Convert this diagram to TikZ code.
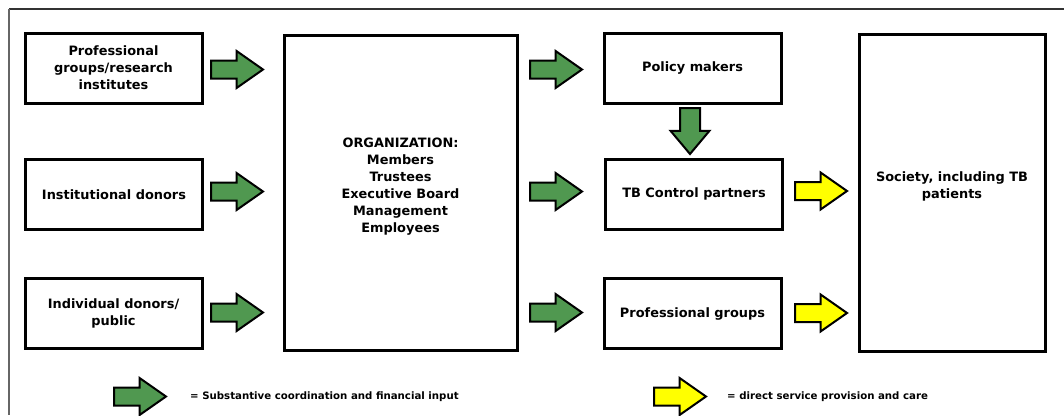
\documentclass[tikz,border=0pt]{standalone}
\usepackage{fontspec}
\setmainfont{DejaVu Sans}
\usetikzlibrary{shapes.arrows}
\definecolor{arrowgreen}{RGB}{80,152,80}
\definecolor{arrowyellow}{RGB}{255,255,0}

\begin{document}
\begin{tikzpicture}[x=1pt,y=-1pt,
	box/.style={draw,line width=3pt,align=center,inner sep=0pt,font=\bfseries\fontsize{12.9}{17}\selectfont},
	boxtext/.style={align=center,inner sep=0pt,font=\bfseries\fontsize{12.9}{17}\selectfont},
	blockarrow/.style={single arrow,draw,line width=2pt,inner sep=8pt,minimum height=52pt,single arrow head extend=9.5pt,single arrow tip angle=70,anchor=tail},
	greenarrow/.style={blockarrow,fill=arrowgreen},
	yellowarrow/.style={blockarrow,fill=arrowyellow},
	legend/.style={anchor=west,inner sep=0pt,font=\bfseries\fontsize{10.2}{12}\selectfont}]
	\useasboundingbox (0,0) rectangle (1064,415);

	\draw[line width=2pt,black!80] (1064,9) -- (9,9);
	\draw[line width=1.2pt,black!60] (9,9) -- (9,415);

	\node[box,minimum width=177,minimum height=70] (Professional) at (113.5,68) {Professional\\groups/research\\institutes};
	\node[box,minimum width=177,minimum height=70] (Institutional) at (114,194.5) {Institutional donors};
	\node[box,minimum width=177,minimum height=70] (Individual) at (113.5,313.5) {Individual donors/\\public};

	\node[box,minimum width=233,minimum height=315] (Organization) at (400.5,192.5) {};
	\node[boxtext] (OrganizationText) at (400.5,187) {ORGANIZATION:\\Members\\Trustees\\Executive Board\\Management\\Employees};

	\node[box,minimum width=177,minimum height=70] (Policy) at (692.5,68) {Policy makers};
	\node[box,minimum width=177,minimum height=70] (Partners) at (694,194) {TB Control partners};
	\node[box,minimum width=177,minimum height=70] (Groups) at (692.5,313.5) {Professional groups};

	\node[box,minimum width=186,minimum height=317] (Society) at (952,192.5) {};
	\node[boxtext] (SocietyText) at (952,186) {Society, including TB\\patients};

	\node[greenarrow] (ProfessionalIn) at (210,69.5) {};
	\node[greenarrow] (InstitutionalIn) at (210,191.5) {};
	\node[greenarrow] (IndividualIn) at (210,312.5) {};

	\node[greenarrow] (PolicyIn) at (529,69.5) {};
	\node[greenarrow] (PartnersIn) at (529,191.5) {};
	\node[greenarrow] (GroupsIn) at (529,312.5) {};

	\node[greenarrow,shape border rotate=270,inner sep=9pt,minimum height=46pt,single arrow tip angle=80] (PolicyDown) at (690,107) {};

	\node[yellowarrow] (PartnersOut) at (794,191) {};
	\node[yellowarrow] (GroupsOut) at (794,313) {};

	\node[greenarrow] (GreenKey) at (113,396.5) {};
	\node[legend] (GreenText) at (190,396.5) {= Substantive coordination and financial input};
	\node[yellowarrow] (YellowKey) at (653,396.5) {};
	\node[legend] (YellowText) at (727,396.5) {= direct service provision and care};
\end{tikzpicture}
\end{document}
